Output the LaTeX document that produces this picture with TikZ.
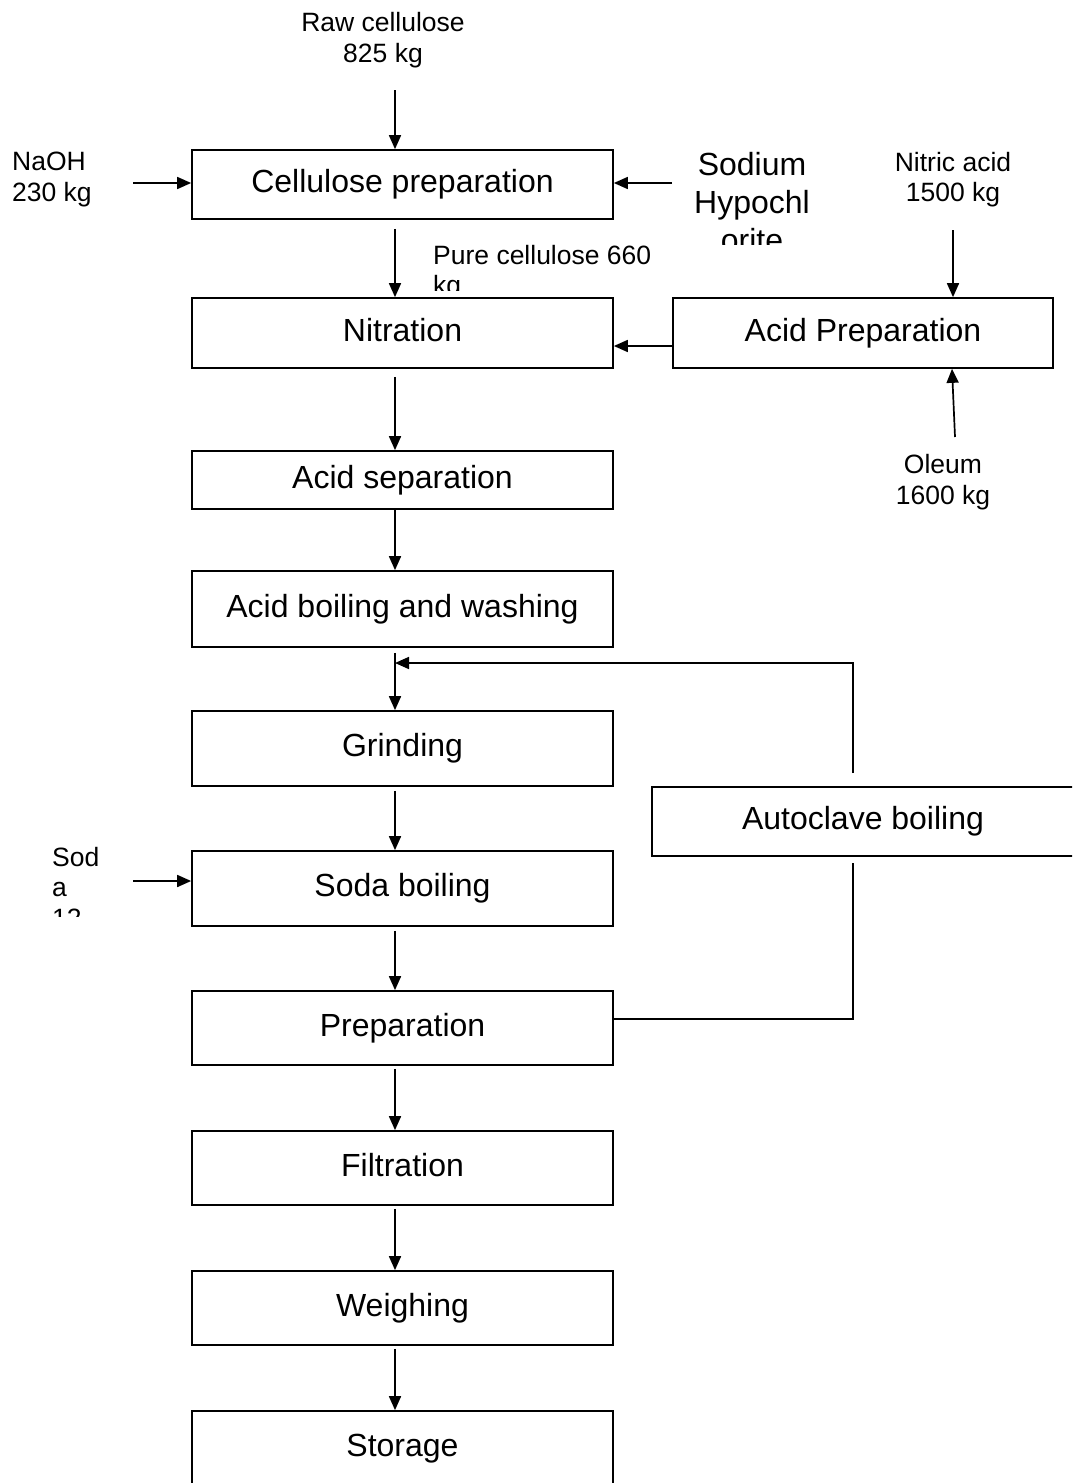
\documentclass[tikz,border=0pt]{standalone}
\usepackage{fontspec}
\setmainfont{Liberation Sans}
\usetikzlibrary{arrows.meta,calc}
\newcommand{\boxfont}{\fontsize{32}{38}\selectfont}
\newcommand{\lblfont}{\fontsize{26.5}{30.5}\selectfont}
\begin{document}
\begin{tikzpicture}[x=1pt,y=-1pt,
  ln/.style={line width=1.7pt},
  arr/.style={ln,-{Triangle[length=14pt,width=12pt]}},
  proc/.style={draw,line width=1.7pt,inner sep=0pt,minimum width=421pt,
    font=\boxfont,text height=23pt,text depth=7pt},
  lbl/.style={font=\lblfont,inner sep=0pt}]
\clip (0,0) rectangle (1072,1483);
\fill[white] (0,0) rectangle (1072,1483);

% process boxes
\node[proc,minimum height=69pt] (cp)  at (402.5,184.5) {Cellulose preparation};
\node[proc,minimum height=70pt] (nit) at (402.5,333)   {Nitration};
\node[proc,minimum height=70pt,minimum width=380pt] (ap) at (863,333) {Acid Preparation};
\node[proc,minimum height=58pt] (as)  at (402.5,480)   {Acid separation};
\node[proc,minimum height=76pt] (abw) at (402.5,609)   {Acid boiling and washing};
\node[proc,minimum height=75pt] (gr)  at (402.5,748.5) {Grinding};
\node[proc,minimum height=69pt,minimum width=428pt] (ac) at (866,821.5) {\hspace*{-6pt}Autoclave boiling};
\node[proc,minimum height=75pt] (sb)  at (402.5,888.5) {Soda boiling};
\node[proc,minimum height=74pt] (pr)  at (402.5,1028)  {Preparation};
\node[proc,minimum height=74pt] (fi)  at (402.5,1168)  {Filtration};
\node[proc,minimum height=74pt] (we)  at (402.5,1308)  {Weighing};
\node[proc,minimum height=74pt] (st)  at (402.5,1448)  {Storage};

% helper coordinates
\coordinate (col) at (395,0);
\coordinate (rawin) at (395,90);
\coordinate (naohin) at (133,183);
\coordinate (hypoin) at (672,183);
\coordinate (nitin) at (953,230);
\coordinate (olin) at (955,437);
\coordinate (sodin) at (133,881);
\coordinate (loopx) at (853,0);
\coordinate (join) at (395,663);

% feed labels
\node[lbl,align=center] (rawl) at (383,40) {Raw cellulose\\825 kg};
\node[lbl,align=left,anchor=west] (naohl) at (12,179.5) {NaOH\\230 kg};
\node[lbl,align=center] (nitl) at (953,179.5) {Nitric acid\\1500 kg};
\node[lbl,align=center] (oll) at (943,482) {Oleum\\1600 kg};
\begin{scope}
  \clip (680,140) rectangle (830,244);
  \node[font=\boxfont,align=center,inner sep=0pt] (hypol) at (752,202) {Sodium\\Hypochl\\orite};
\end{scope}
\begin{scope}
  \clip (425,235) rectangle (670,290);
  \node[lbl,align=left,anchor=west] (purel) at (433,272.5) {Pure cellulose 660\\kg};
\end{scope}
\begin{scope}
  \clip (40,840) rectangle (130,916);
  \node[lbl,align=left,anchor=north west] (sodl) at (52,847) {Sod\\a\\12};
\end{scope}

% main flow
\draw[arr] (rawin) -- (cp.north -| col);
\draw[arr,shorten <=9pt] (cp.south -| col) -- (nit.north -| col);
\draw[arr,shorten <=8pt] (nit.south -| col) -- (as.north -| col);
\draw[arr] (as.south -| col) -- (abw.north -| col);
\draw[arr,shorten <=5pt] (abw.south -| col) -- (gr.north -| col);
\draw[arr,shorten <=4pt] (gr.south -| col) -- (sb.north -| col);
\draw[arr,shorten <=4pt] (sb.south -| col) -- (pr.north -| col);
\draw[arr,shorten <=3pt] (pr.south -| col) -- (fi.north -| col);
\draw[arr,shorten <=3pt] (fi.south -| col) -- (we.north -| col);
\draw[arr,shorten <=3pt] (we.south -| col) -- (st.north -| col);

% side feeds
\draw[arr] (naohin) -- (naohin -| cp.west);
\draw[arr] (hypoin) -- (hypoin -| cp.east);
\draw[arr] (nitin) -- (nitin |- ap.north);
\draw[arr] (olin) -- ($(ap.south)+(89,0)$);
\draw[arr] ($(ap.west)+(0,13)$) -- ($(nit.east)+(0,13)$);
\draw[arr] (sodin) -- (sodin -| sb.west);

% recycle loop through autoclave boiling
\draw[ln] ($(pr.east)+(0,-9)$) -| ($(ac.south -| loopx)+(0,6)$);
\draw[arr] ($(ac.north -| loopx)+(0,-13)$) |- (join);
\end{tikzpicture}
\end{document}
